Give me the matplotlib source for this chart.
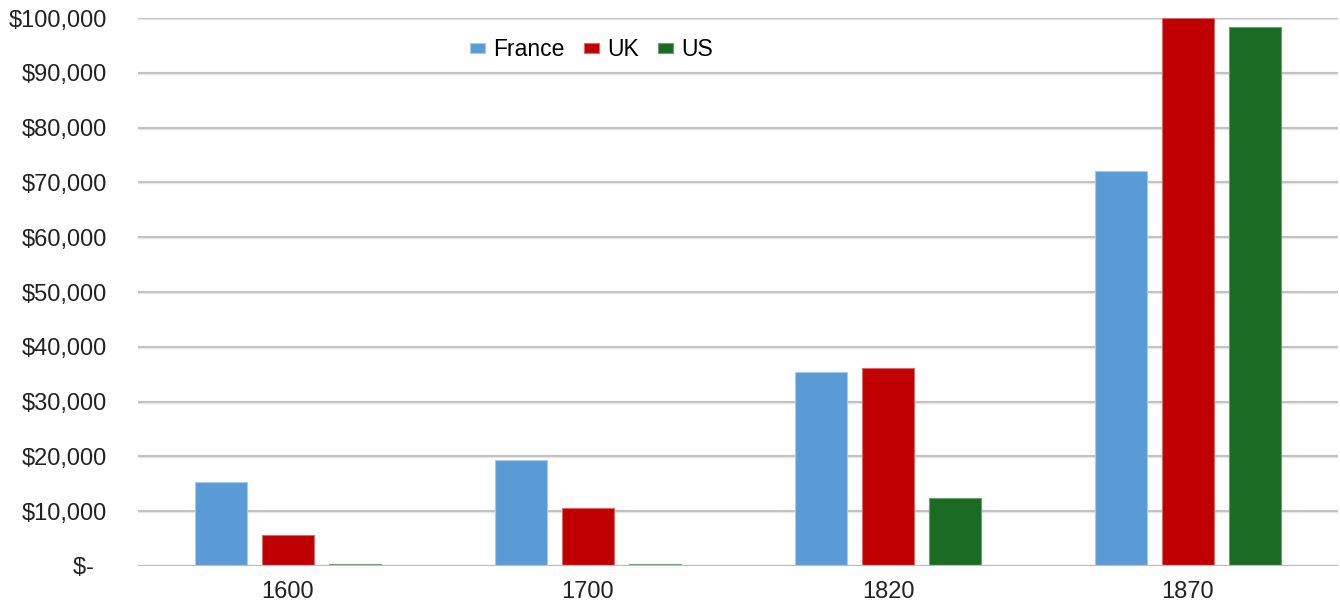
import numpy as np
import matplotlib
matplotlib.use('Agg')
from matplotlib import pyplot as plt
from matplotlib.ticker import FuncFormatter

years = ['1600', '1700', '1820', '1870']
france = [15300, 19300, 35400, 72100]
uk = [5700, 10600, 36100, 100000]
us = [400, 300, 12400, 98400]

plt.rcParams['font.family'] = ['Liberation Sans', 'DejaVu Sans']

fig = plt.figure(figsize=(13.4, 6.05), dpi=100)
ax = fig.add_axes([0.103, 0.0645, 0.8955, 0.9055])

x = np.arange(len(years))
width = 0.173
step = 0.223
series = [('France', france, '#5b9bd5', '#a9c9ea'),
          ('UK', uk, '#c00000', '#d86a6a'),
          ('US', us, '#1b6b25', '#6f9c74')]
for i, (name, vals, color, edge) in enumerate(series):
    ax.bar(x + (i - 1) * step, vals, width, color=color, edgecolor=edge,
           linewidth=0.8, label=name, zorder=3)

ax.set_xlim(-0.5, 3.5)
ax.set_ylim(0, 100000)
ax.set_yticks(np.arange(0, 100001, 10000))
ax.yaxis.set_major_formatter(FuncFormatter(lambda v, p: '$-  ' if v == 0 else '${:,.0f}'.format(v)))
ax.set_xticks(x)
ax.set_xticklabels(years)

# gridlines with a faint shadow underneath
for v in np.arange(10000, 100001, 10000):
    ax.axhline(v, color='#e6e6e6', lw=2.5, zorder=1)
    ax.axhline(v, color='#bcbcbc', lw=1.2, zorder=2)
ax.axhline(0, color='#bcbcbc', lw=1.6, zorder=4)

for s in ax.spines.values():
    s.set_visible(False)
ax.tick_params(axis='both', length=0, labelsize=17, colors='#222222')
ax.tick_params(axis='y', pad=22)
ax.tick_params(axis='x', pad=11)

ax.legend(loc='center', bbox_to_anchor=(0.378, 0.942), ncol=3, frameon=False,
          fontsize=16.5, handlelength=0.65, handleheight=0.3, handletextpad=0.35,
          columnspacing=0.85)

plt.savefig('out.png', dpi=100)
